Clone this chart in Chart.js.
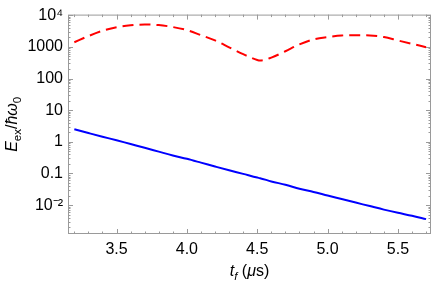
<!DOCTYPE html>
<html>
<head>
<meta charset="utf-8">
<script src="https://cdn.jsdelivr.net/npm/chart.js@4"></script>
<style>
  html, body { margin: 0; padding: 0; background: #fff; }
  #wrap { width: 436px; height: 283px; }
</style>
</head>
<body>
<div id="wrap"><canvas id="chart"></canvas></div>
<script>
// data
const tf = [3.2, 3.3, 3.4, 3.5, 3.6, 3.7, 3.8, 3.9, 4.0, 4.1, 4.2, 4.3, 4.4, 4.5, 4.52,
            4.6, 4.7, 4.8, 4.9, 5.0, 5.1, 5.2, 5.3, 5.4, 5.5, 5.6, 5.7];
const redVals = [1400, 2200, 3250, 4200, 4800, 5100, 4900, 4250, 3400, 2350, 1600, 970, 590, 385, 370,
                 460, 730, 1200, 1730, 2050, 2300, 2350, 2300, 2050, 1600, 1250, 980];
const blueVals = [2.5, 1.9, 1.45, 1.12, 0.85, 0.65, 0.49, 0.37, 0.29, 0.22, 0.166, 0.126, 0.097, 0.074, 0.071,
                  0.056, 0.044, 0.033, 0.026, 0.020, 0.0155, 0.012, 0.0093, 0.0072, 0.0057, 0.0046, 0.0036];
const xTicks = [3.5, 4.0, 4.5, 5.0, 5.5];
const yTicks = [0.01, 0.1, 1, 10, 100, 1000, 10000];
const yTickLabels = ['10\u207B\u00B2', '0.1', '1', '10', '100', '1000', '10\u2074'];

const FONT = '"Liberation Sans", Arial, sans-serif';
const frameColor = '#9a9a9a';

function pts(vals) {
  return tf.map((t, i) => ({ x: t, y: vals[i] }));
}

// draws text made of pieces (italic / subscript)
function richText(ctx, pieces, x, y, size) {
  let w = 0;
  pieces.forEach(p => {
    ctx.font = (p.it ? 'italic ' : '') + (p.sub ? size * 0.72 : size) + 'px ' + FONT;
    p.w = ctx.measureText(p.t).width;
    w += p.w;
  });
  let cx = x - w / 2;
  pieces.forEach(p => {
    ctx.font = (p.it ? 'italic ' : '') + (p.sub ? size * 0.72 : size) + 'px ' + FONT;
    ctx.fillText(p.t, cx, p.sub ? y + size * 0.28 : y);
    cx += p.w;
  });
}

const framePlugin = {
  id: 'frame',
  afterDraw(chart) {
    const ctx = chart.ctx;
    const a = chart.chartArea;
    const xs = chart.scales.x, ys = chart.scales.y;
    ctx.save();
    ctx.strokeStyle = frameColor;
    ctx.lineWidth = 1;
    ctx.strokeRect(a.left + 0.5, a.top + 0.5, a.right - a.left - 1, a.bottom - a.top - 1);

    ctx.beginPath();
    // x ticks (major + minor), bottom and top, pointing inwards
    for (let v = 3.2; v < 5.75; v += 0.1) {
      const val = Math.round(v * 10) / 10;
      const major = Math.abs(val * 2 - Math.round(val * 2)) < 1e-6;
      const len = major ? 5 : 2.5;
      const px = Math.round(xs.getPixelForValue(val)) + 0.5;
      ctx.moveTo(px, a.bottom); ctx.lineTo(px, a.bottom - len);
      ctx.moveTo(px, a.top); ctx.lineTo(px, a.top + len);
    }
    // y ticks
    for (let e = -3; e <= 4; e++) {
      for (let m = 1; m <= 9; m++) {
        const val = m * Math.pow(10, e);
        if (val < ys.min || val > ys.max) continue;
        const len = m === 1 ? 5 : 2.5;
        const py = Math.round(ys.getPixelForValue(val)) + 0.5;
        ctx.moveTo(a.left, py); ctx.lineTo(a.left + len, py);
        ctx.moveTo(a.right, py); ctx.lineTo(a.right - len, py);
      }
    }
    ctx.stroke();

    // axis titles
    ctx.fillStyle = '#000';
    ctx.textBaseline = 'alphabetic';
    richText(ctx, [
      { t: 't', it: true }, { t: 'f', it: true, sub: true },
      { t: ' (' }, { t: '\u03BC', it: true }, { t: 's)' }
    ], (a.left + a.right) / 2, 276, 16);

    ctx.translate(17, (a.top + a.bottom) / 2);
    ctx.rotate(-Math.PI / 2);
    richText(ctx, [
      { t: 'E', it: true }, { t: 'ex', sub: true },
      { t: '/' }, { t: '\u0127\u03C9', it: true }, { t: '0', sub: true }
    ], 0, 0, 16);
    ctx.restore();
  }
};

const config = {
  type: 'line',
  data: {
    datasets: [
      {
        data: pts(redVals),
        borderColor: '#ff0000',
        borderWidth: 2,
        borderDash: [11, 6],
        pointRadius: 0,
        tension: 0.4,
        cubicInterpolationMode: 'monotone'
      },
      {
        data: pts(blueVals),
        borderColor: '#0000ff',
        borderWidth: 2,
        pointRadius: 0,
        tension: 0.4,
        cubicInterpolationMode: 'monotone'
      }
    ]
  },
  options: {
    responsive: true,
    maintainAspectRatio: false,
    animation: false,
    layout: { padding: { top: 10, right: 5, left: 0, bottom: 0 } },
    plugins: { legend: { display: false }, tooltip: { enabled: false } },
    scales: {
      x: {
        type: 'linear',
        min: 3.155,
        max: 5.735,
        grid: { display: false, drawTicks: false },
        border: { display: false },
        afterBuildTicks: s => { s.ticks = xTicks.map(v => ({ value: v })); },
        afterFit: s => { s.height = 49; },
        ticks: {
          padding: 6,
          color: '#000',
          font: { family: FONT, size: 16 },
          maxRotation: 0,
          callback: v => v.toFixed(1)
        }
      },
      y: {
        type: 'logarithmic',
        min: 0.00122,
        max: 10500,
        grid: { display: false, drawTicks: false },
        border: { display: false },
        afterBuildTicks: s => { s.ticks = yTicks.map(v => ({ value: v })); },
        afterFit: s => { s.width = 68; },
        ticks: {
          padding: 5,
          color: '#000',
          font: { family: FONT, size: 16 },
          callback: v => yTickLabels[yTicks.indexOf(v)]
        }
      }
    }
  },
  plugins: [framePlugin]
};

new Chart(document.getElementById('chart'), config);
</script>
</body>
</html>
